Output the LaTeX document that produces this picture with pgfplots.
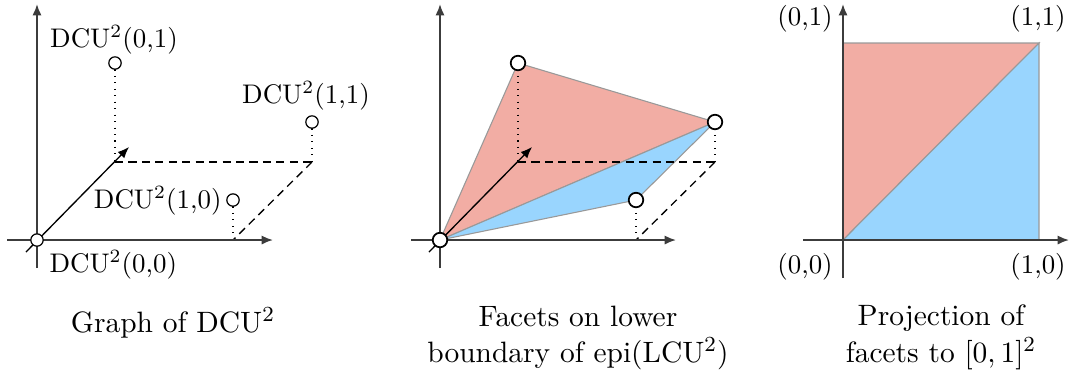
\documentclass[border=0pt,10pt]{standalone}
\usepackage{pgfplots}
\pgfplotsset{compat=1.18}
\usetikzlibrary{arrows.meta}

\definecolor{facetred}{RGB}{242,173,164}
\definecolor{facetblue}{RGB}{153,213,254}
\definecolor{axisgray}{RGB}{60,60,60}

\newcommand{\capfont}{\fontsize{10.95}{13.6}\selectfont}

\begin{document}
\begin{tikzpicture}
\begin{axis}[
  hide axis, scale only axis, clip=false,
  width=397.8pt, height=139.8pt,
  xmin=0, xmax=1070, ymin=0, ymax=376, y dir=reverse,
  axisline/.style={axisgray, line width=0.7pt, -{Latex[length=4.2pt,width=3.4pt]}},
  diagline/.style={black, line width=0.5pt, -{Latex[length=4.2pt,width=3.4pt]}},
  facetedge/.style={draw=black!40, line width=0.4pt},
  dots/.style={black, dotted, line width=0.4pt},
  dashes/.style={black, line width=0.5pt, dash pattern=on 3pt off 2pt},
  vertex/.style={only marks, mark=*, mark size=2.3pt,
    mark options={fill=white, draw=black, line width=0.45pt}},
  bigvertex/.style={only marks, mark=*, mark size=2.7pt,
    mark options={fill=white, draw=black, line width=0.65pt}},
]
% ---------- left: graph of DCU^2 ----------
\addplot[dots] coordinates {(115,63) (115,162)};
\addplot[dots] coordinates {(312,122) (312,162)};
\addplot[dots] coordinates {(233,200) (233,240)};
\addplot[dashes] coordinates {(115,162) (312,162)};
\addplot[dashes] coordinates {(312,162) (233,240)};
\addplot[axisline] coordinates {(37,268) (37,4)};
\addplot[axisline] coordinates {(7,240) (273,240)};
\addplot[diagline] coordinates {(26,252) (129,147)};
\addplot[vertex] coordinates {(37,240) (115,63) (312,122) (233,200)};

\node[anchor=base] at (axis cs:114,47) {DCU$^2$(0,1)};
\node[anchor=base] at (axis cs:306,103) {DCU$^2$(1,1)};
\node[anchor=base east,inner sep=0pt] at (axis cs:222,208) {DCU$^2$(1,0)};
\node[anchor=base west,inner sep=0pt] at (axis cs:49,272) {DCU$^2$(0,0)};

% ---------- middle: facets of the lower boundary ----------
\addplot[facetedge, fill=facetred] coordinates {(440,240) (518,63) (715,122)} -- cycle;
\addplot[facetedge, fill=facetblue] coordinates {(440,240) (715,122) (636,200)} -- cycle;
\addplot[dots] coordinates {(518,63) (518,162)};
\addplot[dots] coordinates {(715,122) (715,162)};
\addplot[dots] coordinates {(636,200) (636,240)};
\addplot[dashes] coordinates {(518,162) (715,162)};
\addplot[dashes] coordinates {(715,162) (636,240)};
\addplot[axisline] coordinates {(440,268) (440,4)};
\addplot[axisline] coordinates {(411,240) (676,240)};
\addplot[diagline] coordinates {(429,252) (532,147)};
\addplot[bigvertex] coordinates {(440,240) (518,63) (715,122) (636,200)};

% ---------- right: projection onto the unit square ----------
\addplot[facetedge, fill=facetred] coordinates {(843,240) (843,43) (1039,43)} -- cycle;
\addplot[facetedge, fill=facetblue] coordinates {(843,240) (1039,240) (1039,43)} -- cycle;
\addplot[axisline] coordinates {(843,278) (843,4)};
\addplot[axisline] coordinates {(803,240) (1069,240)};

\node[anchor=base] at (axis cs:805,25) {(0,1)};
\node[anchor=base] at (axis cs:1038,25) {(1,1)};
\node[anchor=base] at (axis cs:805,273) {(0,0)};
\node[anchor=base] at (axis cs:1038,273) {(1,0)};

% ---------- captions ----------
\node[anchor=base, font=\capfont] at (axis cs:173,332) {Graph of DCU$^2$};
\node[anchor=base, font=\capfont] at (axis cs:578,326) {Facets on lower};
\node[anchor=base, font=\capfont] at (axis cs:578,362) {boundary of epi(LCU$^2$)};
\node[anchor=base, font=\capfont] at (axis cs:941,325) {Projection of};
\node[anchor=base, font=\capfont] at (axis cs:941,362) {facets to $[0,1]^2$};

\coordinate (frameSW) at (axis cs:0,376);
\coordinate (frameNE) at (axis cs:1070,0);
\end{axis}
\pgfresetboundingbox
\useasboundingbox (frameSW) rectangle (frameNE);
\end{tikzpicture}
\end{document}
